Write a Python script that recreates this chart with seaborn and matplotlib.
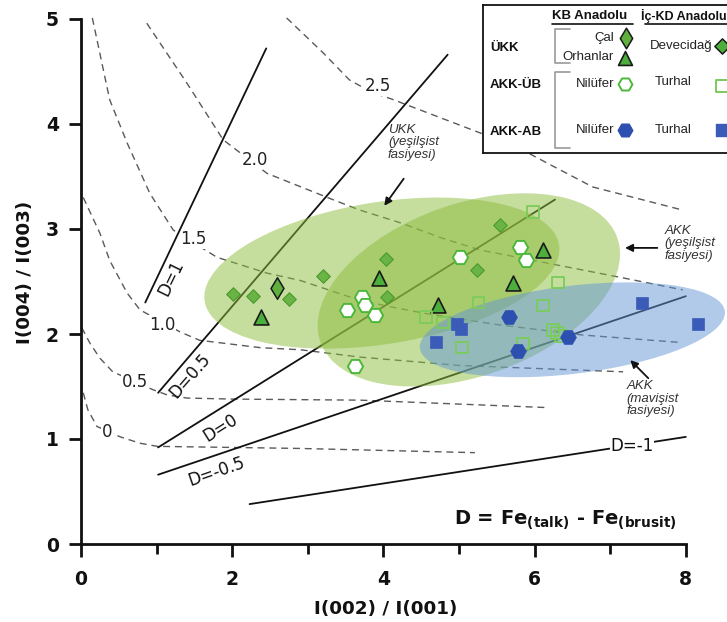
import numpy as np
import matplotlib
matplotlib.use("Agg")
import matplotlib.pyplot as plt
from matplotlib.patches import Ellipse
import seaborn as sns

# ---- scatter data ----
deve_x = [2.01, 2.28, 2.75, 3.20, 4.03, 4.05, 5.24, 5.54]
deve_y = [2.38, 2.36, 2.33, 2.55, 2.71, 2.35, 2.61, 3.04]
cal_x = [2.59]
cal_y = [2.44]
orh_x = [2.38, 3.94, 4.72, 5.71, 6.11]
orh_y = [2.16, 2.53, 2.28, 2.49, 2.80]
nil_ub_x = [3.72, 3.76, 3.52, 3.89, 3.62, 5.01, 5.81, 5.89]
nil_ub_y = [2.35, 2.28, 2.23, 2.18, 1.70, 2.73, 2.83, 2.70]
tur_ub_x = [5.98, 6.31, 6.11, 5.26, 4.56, 4.79, 5.04, 5.85, 6.24, 6.30, 6.35]
tur_ub_y = [3.16, 2.49, 2.27, 2.30, 2.16, 2.11, 1.87, 1.91, 2.04, 2.01, 1.98]
nil_ab_x = [5.66, 6.44, 5.78]
nil_ab_y = [2.16, 1.97, 1.84]
tur_ab_x = [7.42, 8.16, 4.70, 4.97, 5.03]
tur_ab_y = [2.30, 2.10, 1.92, 2.10, 2.05]

# ---- dashed iso-lines ----
c0_x = [0.03, 0.09, 0.21, 0.52, 0.78, 1.01, 2.90, 5.21]
c0_y = [1.44, 1.28, 1.12, 1.02, 0.96, 0.93, 0.91, 0.87]
c05_x = [0.01, 0.12, 0.25, 0.42, 0.95, 1.14, 1.40, 2.01, 3.69, 6.14]
c05_y = [2.06, 1.91, 1.77, 1.64, 1.47, 1.42, 1.39, 1.38, 1.37, 1.30]
c10_x = [0.03, 0.25, 0.38, 0.61, 0.78, 1.31, 1.57, 2.37, 2.90, 3.69, 5.01, 7.17]
c10_y = [3.30, 2.96, 2.70, 2.39, 2.23, 2.02, 1.94, 1.87, 1.85, 1.78, 1.70, 1.64]
c15_x = [0.15, 0.38, 0.61, 0.91, 1.22, 1.80, 2.46, 2.90, 3.69, 4.09, 4.52, 5.50, 6.64, 7.92]
c15_y = [5.01, 4.23, 3.82, 3.34, 2.99, 2.73, 2.58, 2.51, 2.32, 2.26, 2.20, 2.09, 1.99, 1.92]
c20_x = [0.87, 1.40, 1.88, 2.46, 3.33, 3.69, 4.22, 4.79, 5.28, 7.13, 7.96]
c20_y = [4.96, 4.39, 3.85, 3.53, 3.28, 3.18, 3.06, 2.91, 2.80, 2.54, 2.42]
c25_x = [2.72, 3.20, 3.55, 3.85, 4.10, 5.77, 6.16, 6.77, 7.96]
c25_y = [5.01, 4.68, 4.42, 4.30, 4.24, 3.78, 3.63, 3.40, 3.18]
curve_labels = ["0", "0.5", "1.0", "1.5", "2.0", "2.5"]
curve_lab_x = [0.34, 0.71, 1.07, 1.48, 2.30, 3.93]
curve_lab_y = [1.07, 1.54, 2.09, 2.90, 3.66, 4.36]

# ---- solid D lines ----
d_names = ["D=1", "D=0.5", "D=0", "D=-0.5", "D=-1"]
d_x0 = [0.85, 1.02, 1.02, 1.02, 2.23]
d_y0 = [2.30, 1.44, 0.92, 0.66, 0.38]
d_x1 = [2.45, 4.85, 6.27, 8.00, 8.00]
d_y1 = [4.72, 4.66, 3.28, 2.36, 1.02]
d_lab_x = [1.19, 1.44, 1.85, 1.80, 7.29]
d_lab_y = [2.53, 1.60, 1.11, 0.69, 0.93]
d_lab_rot = [64, 49, 32, 19, 0]

# ---- field ellipses: centre x, centre y, width, height, angle ----
ell_cx = [3.98, 5.13, 6.50]
ell_cy = [2.58, 2.42, 2.04]
ell_w = [4.72, 4.07, 4.05]
ell_h = [1.36, 1.68, 0.84]
ell_ang = [6.0, 11.7, 4.8]
ell_col = ["#8dbd3c", "#8dbd3c", "#6496d7"]

sns.set_theme(style="ticks")
plt.rcParams["font.family"] = ["DejaVu Sans"]
plt.rcParams["mathtext.fontset"] = "dejavusans"
for k in ["text.color", "axes.labelcolor", "xtick.color", "ytick.color"]:
    plt.rcParams[k] = "#111111"
LIB = ["Liberation Sans", "DejaVu Sans"]

fig = plt.figure(figsize=(7.27, 6.22), dpi=100)
ax = fig.add_axes([81 / 727, 78 / 622, 646 / 727, 535.5 / 622])
ax.set_xlim(0, 8.545)
ax.set_ylim(0, 5.1)

# dashed curves
for cx, cy in [(c0_x, c0_y), (c05_x, c05_y), (c10_x, c10_y),
               (c15_x, c15_y), (c20_x, c20_y), (c25_x, c25_y)]:
    ax.plot(cx, cy, ls=(0, (5, 3.5)), color="#5a5a5a", lw=1.0, zorder=1)
for lab, lx, ly in zip(curve_labels, curve_lab_x, curve_lab_y):
    ax.text(lx, ly, lab, fontsize=12, ha="center", va="center", color="#222222",
            bbox=dict(fc="white", ec="none", pad=0.5), zorder=2)

# solid D lines
for i in range(len(d_names)):
    ax.plot([d_x0[i], d_x1[i]], [d_y0[i], d_y1[i]], color="#111111", lw=1.3, zorder=3)
    ax.text(d_lab_x[i], d_lab_y[i], d_names[i], fontsize=12, rotation=d_lab_rot[i],
            rotation_mode="anchor", ha="center", va="center", color="#111111",
            bbox=dict(fc="white", ec="none", pad=0.3) if d_lab_rot[i] == 0 else None,
            zorder=3.5)

# ellipses
for i in range(len(ell_cx)):
    ax.add_patch(Ellipse((ell_cx[i], ell_cy[i]), ell_w[i], ell_h[i], angle=ell_ang[i],
                         fc=ell_col[i], ec="none", alpha=0.5, zorder=4))

# markers
green = "#5fb03c"
blue = "#2c4fb0"
sns.scatterplot(x=deve_x, y=deve_y, marker="D", s=48, color="#6ab445",
                edgecolor="#4a9a2c", linewidth=0.8, ax=ax, zorder=6)
sns.scatterplot(x=cal_x, y=cal_y, marker="d", s=120, color=green,
                edgecolor="#1a1a1a", linewidth=1.1, ax=ax, zorder=6)
sns.scatterplot(x=orh_x, y=orh_y, marker="^", s=115, color="#4caf3c",
                edgecolor="#1a1a1a", linewidth=1.2, ax=ax, zorder=6)
sns.scatterplot(x=nil_ub_x, y=nil_ub_y, marker="H", s=120, color="white",
                edgecolor="#4cb83a", linewidth=1.4, ax=ax, zorder=6)
sns.scatterplot(x=tur_ub_x, y=tur_ub_y, marker="s", s=70, color="none",
                edgecolor="#7acc5a", linewidth=1.3, ax=ax, zorder=6)
sns.scatterplot(x=nil_ab_x, y=nil_ab_y, marker="H", s=130, color=blue,
                edgecolor=blue, linewidth=0.5, ax=ax, zorder=6)
sns.scatterplot(x=tur_ab_x, y=tur_ab_y, marker="s", s=85, color="#3a5cb8",
                edgecolor="#3a5cb8", linewidth=0.5, ax=ax, zorder=6)

# facies annotations
arr = dict(arrowstyle="-|>", color="#111111", lw=1.3, mutation_scale=11)
ax.annotate("", xy=(3.99, 3.20), xytext=(4.29, 3.50), arrowprops=arr, zorder=7)
ax.annotate("", xy=(7.16, 2.82), xytext=(7.66, 2.82), arrowprops=arr, zorder=7)
ax.annotate("", xy=(7.24, 1.77), xytext=(7.53, 1.56), arrowprops=arr, zorder=7)
for tx, ty, txt in [(4.06, 4.00, "UKK\n(yeşilşist\nfasiyesi)"),
                    (7.72, 3.04, "AKK\n(yeşilşist\nfasiyesi)"),
                    (7.22, 1.56, "AKK\n(mavişist\nfasiyesi)")]:
    ax.text(tx, ty, txt, style="italic", fontsize=9.5, family=LIB,
            ha="left", va="top", color="#333333", linespacing=1.05)
ax.text(6.40, 0.22, r"D = Fe$_{\mathbf{(talk)}}$ - Fe$_{\mathbf{(brusit)}}$",
        fontsize=14, fontweight="bold", ha="center", va="center", color="#111111")

# axes styling
sns.despine(ax=ax)
ax.spines["left"].set_bounds(0, 5)
ax.spines["bottom"].set_bounds(0, 8)
for s in ["left", "bottom"]:
    ax.spines[s].set_linewidth(2.0)
    ax.spines[s].set_color("#111111")
ax.set_xticks([0, 2, 4, 6, 8])
ax.set_xticks([1, 3, 5, 7], minor=True)
ax.set_yticks([0, 1, 2, 3, 4, 5])
ax.tick_params(axis="both", which="major", length=9, width=2, color="#111111",
               labelsize=13.5, pad=7)
ax.tick_params(axis="x", which="major", pad=10)
ax.tick_params(axis="x", which="minor", length=7, width=2, color="#111111")
for t in ax.get_xticklabels() + ax.get_yticklabels():
    t.set_fontweight("bold")
ax.set_xlabel("I(002) / I(001)", fontsize=13.2, fontweight="bold")
ax.set_ylabel("I(004) / I(003)", fontsize=13.2, fontweight="bold")
ax.xaxis.set_label_coords(0.472, -0.104)
ax.yaxis.set_label_coords(-0.072, 0.508)

# legend box in pixel coordinates of the reference
lg = fig.add_axes([483 / 727, 1 - 153 / 622, (745 - 483) / 727, 148 / 622])
lg.set_xlim(483, 745)
lg.set_ylim(153, 5)
lg.set_xticks([])
lg.set_yticks([])
lg.set_facecolor("white")
for s in lg.spines.values():
    s.set_linewidth(1.3)
    s.set_color("#111111")
lg.set_zorder(10)

fs = 9.5
lg.text(590, 16, "KB Anadolu", fontsize=fs, fontweight="bold", family=LIB,
        ha="center", va="center")
lg.plot([552, 633], [24, 24], color="#111111", lw=1.2)
lg.text(684, 16, "İç-KD Anadolu", fontsize=9, fontweight="bold", family=LIB,
        ha="center", va="center")
lg.plot([645, 745], [24, 24], color="#111111", lw=1.2)
for lab, yy in [("ÜKK", 48), ("AKK-ÜB", 85), ("AKK-AB", 132)]:
    lg.text(490, yy, lab, fontsize=fs, fontweight="bold", family=LIB,
            ha="left", va="center")
lg.plot([570, 555, 555, 570], [29, 29, 63, 63], color="#9a9a9a", lw=1.2)
lg.plot([570, 555, 555, 570], [72, 72, 148, 148], color="#9a9a9a", lw=1.2)
for lab, yy in [("Çal", 38), ("Orhanlar", 57), ("Nilüfer", 84), ("Nilüfer", 130)]:
    lg.text(614, yy, lab, fontsize=fs, family=LIB, ha="right", va="center",
            color="#222222")
for lab, xx, yy in [("Devecidağ", 650, 46), ("Turhal", 655, 82), ("Turhal", 655, 130)]:
    lg.text(xx, yy, lab, fontsize=fs, family=LIB, ha="left", va="center",
            color="#222222")
lg.scatter([626], [38], marker="d", s=110, c=green, edgecolors="#1a1a1a", linewidths=1.1)
lg.scatter([625], [58], marker="^", s=100, c="#4caf3c", edgecolors="#1a1a1a", linewidths=1.2)
lg.scatter([625], [84], marker="H", s=100, c="white", edgecolors="#4cb83a", linewidths=1.4)
lg.scatter([625], [130], marker="H", s=110, c=blue, edgecolors=blue)
lg.scatter([722], [46], marker="D", s=60, c="#4caf3c", edgecolors="#1a1a1a", linewidths=1.1)
lg.scatter([722], [86], marker="s", s=80, c="white", edgecolors="#7acc5a", linewidths=1.4)
lg.scatter([722], [130], marker="s", s=85, c="#3a5cb8", edgecolors="#3a5cb8")

fig.savefig("out.png", dpi=100)
